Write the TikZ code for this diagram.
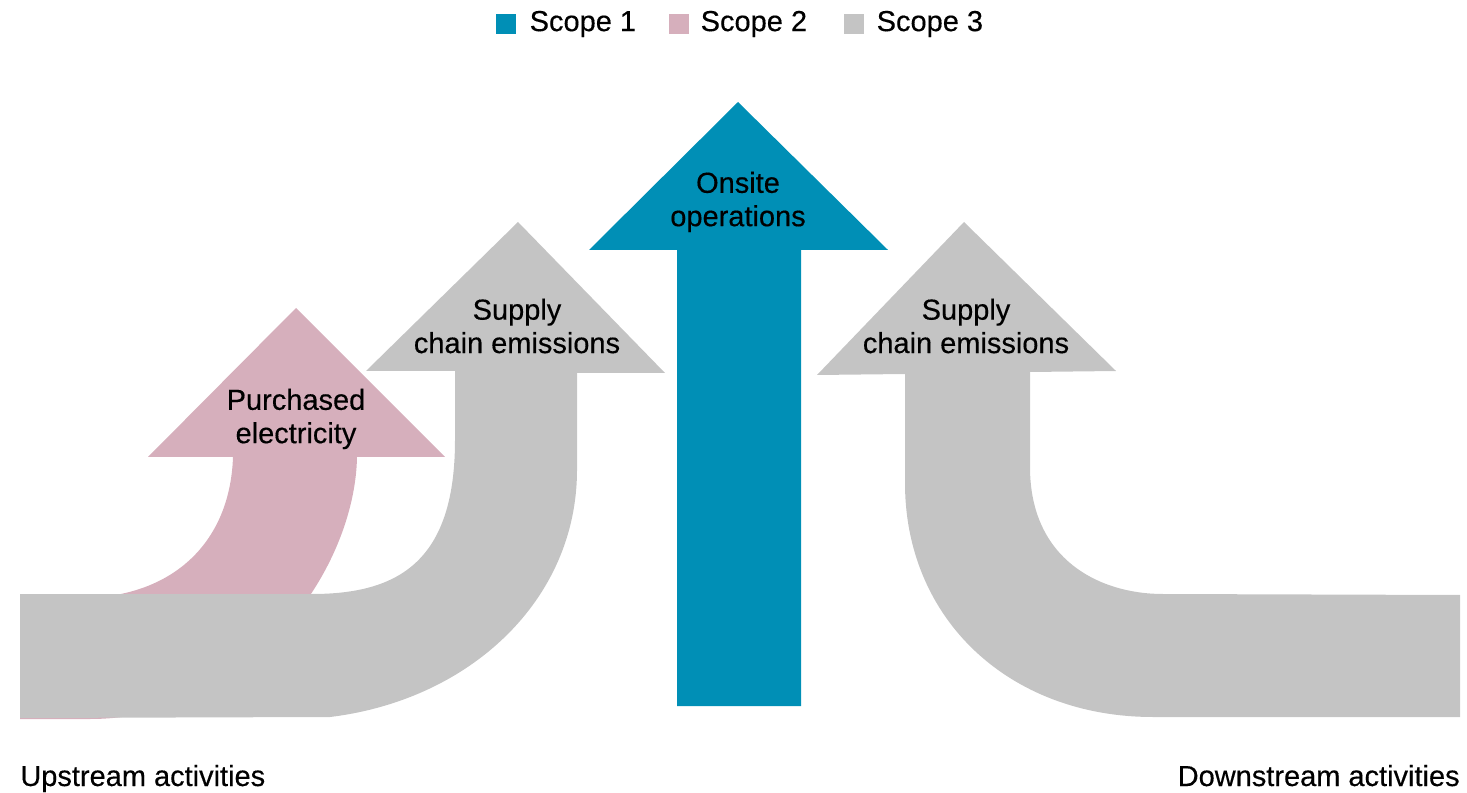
\documentclass[tikz,border=0pt]{standalone}
\usepackage{fontspec}
\setmainfont{Liberation Sans}[FakeBold=0.35]
\usetikzlibrary{positioning}
\definecolor{scopeone}{RGB}{0,143,182}
\definecolor{scopetwo}{RGB}{214,175,188}
\definecolor{scopethree}{RGB}{196,196,196}

\begin{document}
\begin{tikzpicture}[
    x=0.02cm, y=-0.02cm,
    lbl/.style={align=center, font=\fontsize{16.5}{19}\selectfont, inner sep=0pt},
    swatch/.style={minimum size=0.4cm, inner sep=0pt},
    keytext/.style={font=\fontsize{16.5}{19}\selectfont, inner sep=0pt}
]
    \useasboundingbox (0,0) rectangle (1467,793);

    % legend
    \node[swatch, fill=scopeone] (sq1) at (506,24) {};
    \node[keytext, right=0.26cm of sq1] (key1) {Scope 1};
    \node[swatch, fill=scopetwo] (sq2) at (679,24) {};
    \node[keytext, right=0.22cm of sq2] (key2) {Scope 2};
    \node[swatch, fill=scopethree] (sq3) at (854,24) {};
    \node[keytext, right=0.24cm of sq3] (key3) {Scope 3};

    % scope 2: purchased electricity
    \fill[scopetwo] (20,719) -- (90,719)
        .. controls (250,719) and (355,570) .. (357,457)
        -- (445,457) -- (296,308) -- (148,457) -- (233,457)
        .. controls (230,545) and (170,598) .. (80,598)
        -- (20,598) -- cycle;

    % scope 3: upstream supply chain
    \fill[scopethree] (20,718) -- (330,717)
        .. controls (470,700) and (577,600) .. (577,470)
        -- (577,373) -- (665,373) -- (518,222) -- (366,371) -- (455,371)
        -- (455,440) .. controls (455,560) and (400,594) .. (312,594)
        -- (20,594) -- cycle;

    % scope 1: onsite operations
    \fill[scopeone] (677,706) -- (677,250) -- (589,250) -- (738,102)
        -- (888,250) -- (801,250) -- (801,706) -- cycle;

    % scope 3: downstream supply chain
    \fill[scopethree] (1460,595) -- (1163,594)
        .. controls (1100,594) and (1030,560) .. (1030,467)
        -- (1030,372) -- (1116,371) -- (964,222) -- (817,375) -- (905,374)
        -- (905,483) .. controls (905,620) and (1010,717) .. (1153,717)
        -- (1460,717) -- cycle;

    % arrow labels
    \node[lbl] (elec) at (296,419) {Purchased\\electricity};
    \node[lbl] (upsupply) at (517,326) {Supply\\chain emissions};
    \node[lbl] (onsite) at (738,202) {Onsite\\operations};
    \node[lbl] (downsupply) at (966,326) {Supply\\chain emissions};

    \node[lbl, anchor=base west] (upstream) at (20,786) {Upstream activities};
    \node[lbl, anchor=base east] (downstream) at (1460,786) {Downstream activities};
\end{tikzpicture}
\end{document}
